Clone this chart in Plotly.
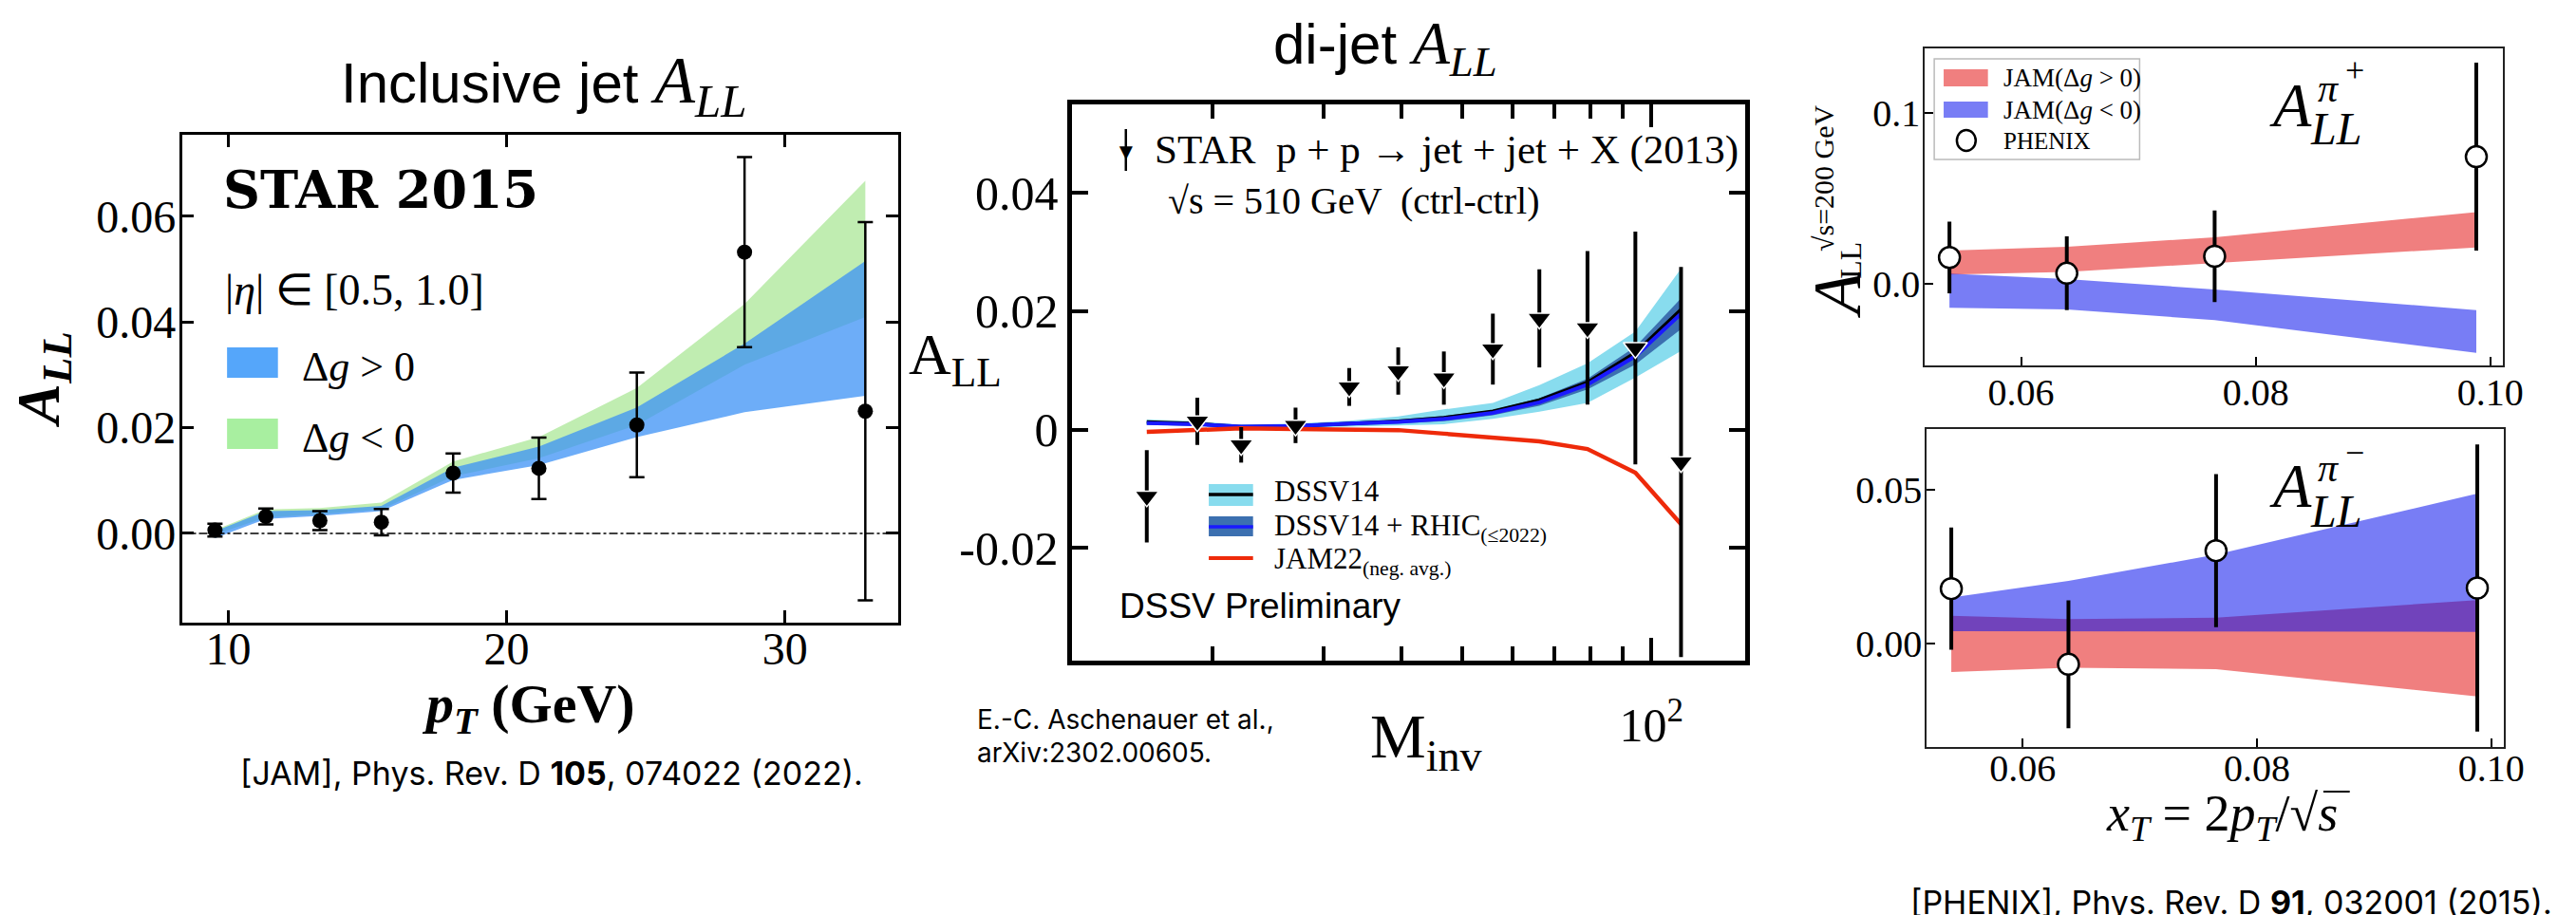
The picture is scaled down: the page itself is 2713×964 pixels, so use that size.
import plotly.graph_objects as go

W, H = 2713, 964

# ---------------- inclusive jet A_LL (STAR 2015) ----------------
jet_pt = [9.52, 11.35, 13.29, 15.50, 18.08, 21.16, 24.68, 28.55, 32.89]
jet_all = [0.0006, 0.0032, 0.0024, 0.0021, 0.0114, 0.0123, 0.0205, 0.0532, 0.0231]
jet_err = [0.0012, 0.0015, 0.0018, 0.0025, 0.0037, 0.0058, 0.0099, 0.0180, 0.0358]
jet_pos_lo = [-0.0009, 0.0027, 0.0033, 0.0042, 0.0101, 0.0129, 0.0182, 0.0229, 0.0260]
jet_pos_hi = [0.0004, 0.0042, 0.0044, 0.0052, 0.0124, 0.0164, 0.0238, 0.0359, 0.0515]
jet_neg_lo = [-0.0002, 0.0030, 0.0036, 0.0045, 0.0108, 0.0142, 0.0205, 0.0319, 0.0409]
jet_neg_hi = [0.0006, 0.0045, 0.0048, 0.0058, 0.0136, 0.0182, 0.0275, 0.0434, 0.0667]

# ---------------- di-jet A_LL (STAR 2013) ----------------
dijet_m = [15.7, 18.9, 22.2, 27.1, 33.0, 39.5, 46.7, 55.9, 66.3, 79.1, 94.3, 111.5]
dijet_all = [-0.0113, 0.0014, -0.0026, 0.0007, 0.0072, 0.0099, 0.0087, 0.0136, 0.0188, 0.0172, 0.0138, -0.0055]
dijet_err = [0.0078, 0.0040, 0.0030, 0.0030, 0.0032, 0.0040, 0.0045, 0.0060, 0.0083, 0.0130, 0.0197, 0.0330]
dssv14_c = [0.0013, 0.0010, 0.0004, 0.0006, 0.0010, 0.0014, 0.0020, 0.0031, 0.0050, 0.0080, 0.0130, 0.0203]
dssv14_lo = [0.0008, 0.0006, 0.0001, 0.0002, 0.0005, 0.0007, 0.0009, 0.0018, 0.0030, 0.0045, 0.0088, 0.0133]
dssv14_hi = [0.0017, 0.0014, 0.0008, 0.0010, 0.0015, 0.0022, 0.0034, 0.0045, 0.0075, 0.0112, 0.0166, 0.0272]
rhic_c = [0.0011, 0.0009, 0.0005, 0.0006, 0.0010, 0.0013, 0.0018, 0.0028, 0.0046, 0.0076, 0.0124, 0.0196]
rhic_lo = [0.0008, 0.0006, 0.0002, 0.0003, 0.0007, 0.0010, 0.0014, 0.0024, 0.0040, 0.0068, 0.0110, 0.0170]
rhic_hi = [0.0014, 0.0012, 0.0008, 0.0009, 0.0013, 0.0017, 0.0023, 0.0033, 0.0053, 0.0086, 0.0140, 0.0222]
jam22 = [-0.0004, -0.0001, 0.0002, 0.0001, 0.0000, -0.0001, -0.0007, -0.0014, -0.0020, -0.0033, -0.0073, -0.0160]

# ---------------- PHENIX pions ----------------
xt = [0.0539, 0.0639, 0.0765, 0.0988]
pip_all = [0.0154, 0.0062, 0.0161, 0.0744]
pip_err = [0.0210, 0.0216, 0.0268, 0.0550]
pip_pos_lo = [0.0054, 0.0069, 0.0120, 0.0213]
pip_pos_hi = [0.0194, 0.0217, 0.0272, 0.0420]
pip_neg_lo = [-0.0141, -0.0150, -0.0213, -0.0404]
pip_neg_hi = [0.0059, 0.0028, -0.0033, -0.0154]
pim_all = [0.0179, -0.0066, 0.0302, 0.0181]
pim_err = [0.0198, 0.0207, 0.0248, 0.0465]
pim_pos_lo = [-0.0091, -0.0077, -0.0082, -0.0170]
pim_pos_hi = [0.0091, 0.0080, 0.0085, 0.0142]
pim_neg_lo = [0.0041, 0.0041, 0.0041, 0.0039]
pim_neg_hi = [0.0150, 0.0204, 0.0289, 0.0487]

SERIF = "Liberation Serif, Times New Roman, serif"
SANS = "Liberation Sans, Arial, sans-serif"
CITE = "Inter, Roboto, Liberation Sans, sans-serif"

BLUE_BAND = "rgba(60,145,245,0.75)"
GREEN_BAND = "rgba(130,220,100,0.5)"
RED_PI = "rgba(225,0,0,0.5)"
BLUE_PI = "rgba(10,19,237,0.55)"


def px(x):
    return x / W


def py(y):
    return 1 - y / H


def band(x, lo, hi, color, xa, ya):
    return go.Scatter(x=list(x) + list(x)[::-1], y=list(hi) + list(lo)[::-1],
                      fill="toself", fillcolor=color, mode="lines",
                      line=dict(width=0, color=color), hoverinfo="skip",
                      showlegend=False, xaxis=xa, yaxis=ya)


fig = go.Figure()

# inclusive jet panel
fig.add_trace(band(jet_pt, jet_neg_lo, jet_neg_hi, GREEN_BAND, "x", "y"))
fig.add_trace(band(jet_pt, jet_pos_lo, jet_pos_hi, BLUE_BAND, "x", "y"))
fig.add_trace(go.Scatter(x=jet_pt, y=jet_all, mode="markers",
                         marker=dict(color="black", size=16),
                         error_y=dict(type="data", array=jet_err, color="black",
                                      thickness=2.5, width=8),
                         showlegend=False, xaxis="x", yaxis="y"))

# di-jet panel
fig.add_trace(band(dijet_m, dssv14_lo, dssv14_hi, "#88dcee", "x2", "y2"))
fig.add_trace(band(dijet_m, rhic_lo, rhic_hi, "#3c70b0", "x2", "y2"))
fig.add_trace(go.Scatter(x=dijet_m, y=dssv14_c, mode="lines",
                         line=dict(color="black", width=3.5),
                         showlegend=False, xaxis="x2", yaxis="y2"))
fig.add_trace(go.Scatter(x=dijet_m, y=rhic_c, mode="lines",
                         line=dict(color="#1a1aff", width=4),
                         showlegend=False, xaxis="x2", yaxis="y2"))
fig.add_trace(go.Scatter(x=dijet_m, y=jam22, mode="lines",
                         line=dict(color="#ee2a0a", width=4.5),
                         showlegend=False, xaxis="x2", yaxis="y2"))
fig.add_trace(go.Scatter(x=dijet_m, y=dijet_all, mode="markers",
                         marker=dict(color="black", size=22, symbol="triangle-down",
                                     line=dict(color="white", width=1.5)),
                         error_y=dict(type="data", array=dijet_err, color="black",
                                      thickness=4, width=0),
                         showlegend=False, xaxis="x2", yaxis="y2"))

# pi+ panel
fig.add_trace(band(xt, pip_pos_lo, pip_pos_hi, RED_PI, "x3", "y3"))
fig.add_trace(band(xt, pip_neg_lo, pip_neg_hi, BLUE_PI, "x3", "y3"))
fig.add_trace(go.Scatter(x=xt, y=pip_all, mode="markers",
                         marker=dict(color="white", size=22,
                                     line=dict(color="black", width=2.5)),
                         error_y=dict(type="data", array=pip_err, color="black",
                                      thickness=4, width=0),
                         showlegend=False, xaxis="x3", yaxis="y3"))

# pi- panel
fig.add_trace(band(xt, pim_pos_lo, pim_pos_hi, RED_PI, "x4", "y4"))
fig.add_trace(band(xt, pim_neg_lo, pim_neg_hi, BLUE_PI, "x4", "y4"))
fig.add_trace(go.Scatter(x=xt, y=pim_all, mode="markers",
                         marker=dict(color="white", size=22,
                                     line=dict(color="black", width=2.5)),
                         error_y=dict(type="data", array=pim_err, color="black",
                                      thickness=4, width=0),
                         showlegend=False, xaxis="x4", yaxis="y4"))


def axis(dom, rng, **kw):
    d = dict(domain=dom, range=rng, showgrid=False, zeroline=False,
             showline=True, linecolor="black", ticks="inside", tickcolor="black")
    d.update(kw)
    return d


ax_font_l = dict(family=SERIF, size=48, color="black")
ax_font_m = dict(family=SERIF, size=50, color="black")
ax_font_r = dict(family=SERIF, size=40, color="black")

fig.update_layout(
    width=W, height=H, margin=dict(l=0, r=0, t=0, b=0),
    paper_bgcolor="white", plot_bgcolor="white", showlegend=False,
    xaxis=axis([px(193), px(953)], [8.33, 34.06], anchor="y", mirror="ticks",
               linewidth=2.5, tickwidth=2.5, ticklen=13,
               tickvals=[10, 20, 30], ticktext=["10", "20", "30"],
               tickfont=ax_font_l, ticklabelstandoff=-16),
    yaxis=axis([py(656), py(142)], [-0.0169, 0.0754], anchor="x", mirror="ticks",
               linewidth=2.5, tickwidth=2.5, ticklen=13,
               tickvals=[0, 0.02, 0.04, 0.06], ticktext=["0.00", "0.02", "0.04", "0.06"],
               tickfont=ax_font_l, ticklabelstandoff=-6),
    xaxis2=axis([px(1138), px(1852)], [1.077, 2.149], type="log", anchor="y2",
                mirror="ticks", linewidth=4.5, tickwidth=4, ticklen=24,
                tickvals=[100], ticktext=["10<sup>2</sup>"], tickfont=ax_font_m,
                ticklabelstandoff=20,
                minor=dict(ticks="inside", ticklen=15, tickwidth=3.5, tickcolor="black",
                           tickvals=[20, 30, 40, 50, 60, 70, 80, 90])),
    yaxis2=axis([py(696), py(110)], [-0.0391, 0.055], anchor="x2", mirror="ticks",
                linewidth=4.5, tickwidth=4, ticklen=17,
                tickvals=[-0.02, 0, 0.02, 0.04], ticktext=["-0.02", "0", "0.02", "0.04"],
                tickfont=ax_font_m, ticklabelstandoff=0),
    xaxis3=axis([px(2043), px(2657)], [0.0518, 0.1011], anchor="y3", mirror=True,
                linewidth=2, linecolor="#222", tickwidth=1.5, ticklen=9,
                tickvals=[0.06, 0.08, 0.10], ticktext=["0.06", "0.08", "0.10"],
                tickfont=ax_font_r, ticklabelstandoff=-8),
    yaxis3=axis([py(385), py(51)], [-0.0478, 0.1378], anchor="x3", mirror=True,
                linewidth=2, linecolor="#222", tickwidth=1.5, ticklen=9,
                tickvals=[0, 0.1], ticktext=["0.0", "0.1"],
                tickfont=ax_font_r, ticklabelstandoff=-5),
    xaxis4=axis([px(2045), px(2658)], [0.0518, 0.1011], anchor="y4", mirror=True,
                linewidth=2, linecolor="#222", tickwidth=1.5, ticklen=9,
                tickvals=[0.06, 0.08, 0.10], ticktext=["0.06", "0.08", "0.10"],
                tickfont=ax_font_r, ticklabelstandoff=-14),
    yaxis4=axis([py(787), py(452)], [-0.0334, 0.0696], anchor="x4", mirror=True,
                linewidth=2, linecolor="#222", tickwidth=1.5, ticklen=9,
                tickvals=[0, 0.05], ticktext=["0.00", "0.05"],
                tickfont=ax_font_r, ticklabelstandoff=-5),
)

shapes = []
# dash-dot reference line at zero in the inclusive-jet panel
shapes.append(dict(type="line", xref="x domain", yref="y", x0=0, x1=1, y0=0, y1=0,
                   line=dict(color="black", width=1.5, dash="dashdot"), layer="above"))


def prect(x0, y0, x1, y1, fill, line=None, lw=0):
    return dict(type="rect", xref="paper", yref="paper", x0=px(x0), x1=px(x1),
                y0=py(y1), y1=py(y0), fillcolor=fill,
                line=dict(color=line or fill, width=lw), layer="above")


def pline(x0, y0, x1, y1, color, width, dash="solid"):
    return dict(type="line", xref="paper", yref="paper", x0=px(x0), x1=px(x1),
                y0=py(y0), y1=py(y1), line=dict(color=color, width=width, dash=dash),
                layer="above")


# inclusive-jet legend swatches
shapes.append(prect(241, 366, 295, 398, "#55a6fa"))
shapes.append(prect(241, 441, 295, 473, "#a8efa0"))
# di-jet legend
shapes.append(pline(1195, 136, 1195, 180, "black", 2.5))
shapes.append(prect(1283, 510, 1330, 533, "#88dcee"))
shapes.append(pline(1283, 521, 1330, 521, "black", 3.5))
shapes.append(prect(1283, 544, 1330, 565, "#3c70b0"))
shapes.append(pline(1283, 555, 1330, 555, "#1a1aff", 3.5))
shapes.append(pline(1283, 588, 1330, 588, "#ee2a0a", 4))
# pion legend box
shapes.append(prect(2053, 62, 2271, 168, "white", "#bbbbbb", 1.5))
shapes.append(prect(2063, 73, 2110, 91, RED_PI))
shapes.append(prect(2063, 107, 2110, 124, BLUE_PI))
shapes.append(dict(type="circle", xref="paper", yref="paper", x0=px(2077), x1=px(2097),
                   y0=py(159), y1=py(137), fillcolor="white",
                   line=dict(color="black", width=2.5), layer="above"))
# overline of the square root in the x_T label
shapes.append(pline(2466, 834, 2494, 834, "black", 2))
fig.update_layout(shapes=shapes)

ann = []


def text(x, y, s, size, family=SERIF, xanchor="center", yanchor="middle", angle=0,
         color="black"):
    ann.append(dict(x=px(x), y=py(y), xref="paper", yref="paper", text=s,
                    showarrow=False, xanchor=xanchor, yanchor=yanchor, textangle=angle,
                    font=dict(family=family, size=size, color=color)))


# titles
text(577, 90, "Inclusive jet <span style='font-family:Liberation Serif;font-size:70px'>"
     "<i>A</i><sub><i>LL</i></sub></span>", 60, SANS)
text(1470, 50, "di-jet <span style='font-family:Liberation Serif;font-size:64px'>"
     "<i>A</i><sub><i>LL</i></sub></span>", 60, SANS)

# inclusive-jet panel text
text(235, 200, "<b>STAR 2015</b>", 54, "DejaVu Serif, serif", xanchor="left")
text(237, 305, "|<i>η</i>| ∈ [0.5, 1.0]", 46, xanchor="left")
text(318, 386, "Δ<i>g</i> &gt; 0", 44, xanchor="left")
text(318, 461, "Δ<i>g</i> &lt; 0", 44, xanchor="left")
text(561, 745, "<b><i>p</i><sub><i>T</i></sub> (GeV)</b>", 58)
text(45, 400, "<b><i>A</i><sub><i>LL</i></sub></b>", 64, angle=-90)
text(586, 814, "[JAM], Phys. Rev. D <b>105</b>, 074022 (2022).", 34, CITE)

# di-jet panel text
text(1195, 160, "▼", 24)
text(1223, 158, "STAR  p + p → jet + jet + X (2013)", 43, xanchor="left")
text(1238, 211, "√s = 510 GeV  (ctrl-ctrl)", 40, xanchor="left")
text(1350, 517, "DSSV14", 31, xanchor="left")
text(1350, 556, "DSSV14 + RHIC<sub>(≤2022)</sub>", 31, xanchor="left")
text(1350, 591, "JAM22<sub>(neg. avg.)</sub>", 31, xanchor="left")
text(1186, 638, "DSSV Preliminary", 37, SANS, xanchor="left")
text(962, 378, "A<sub>LL</sub>", 62, xanchor="left")
text(1452, 780, "M<sub>inv</sub>", 66, xanchor="left")
text(1035, 758, "E.-C. Aschenauer et al.,", 28, CITE, xanchor="left")
text(1035, 793, "arXiv:2302.00605.", 28, CITE, xanchor="left")

# pion legend text
text(2124, 82, "JAM(Δ<i>g</i> &gt; 0)", 27, xanchor="left")
text(2124, 116, "JAM(Δ<i>g</i> &lt; 0)", 27, xanchor="left")
text(2124, 148, "PHENIX", 25, xanchor="left")

# A_LL^{pi+} and A_LL^{pi-} labels
for yA, yPi, ySign, yLL, sign in [(110, 93, 74, 136, "+"), (511, 493, 477, 538, "−")]:
    text(2407, yA, "<i>A</i>", 66, xanchor="left")
    text(2458, yPi, "<i>π</i>", 42, xanchor="left")
    text(2487, ySign, sign, 36, xanchor="left")
    text(2450, yLL, "<i>LL</i>", 48, xanchor="left")

# pion y-axis title
text(1950, 310, "<i>A</i>", 72, angle=-90)
text(1964, 274, "LL", 32, angle=-90)
text(1936, 188, "√s=200 GeV", 30, angle=-90)
# pion x-axis title
text(2358, 860, "<i>x</i><sub><i>T</i></sub> = 2<i>p</i><sub><i>T</i></sub>/√<i>s</i>", 54)
text(2711, 950, "[PHENIX], Phys. Rev. D <b>91</b>, 032001 (2015).", 34, CITE,
     xanchor="right")

fig.update_layout(annotations=ann)
fig.write_html("out.html")
